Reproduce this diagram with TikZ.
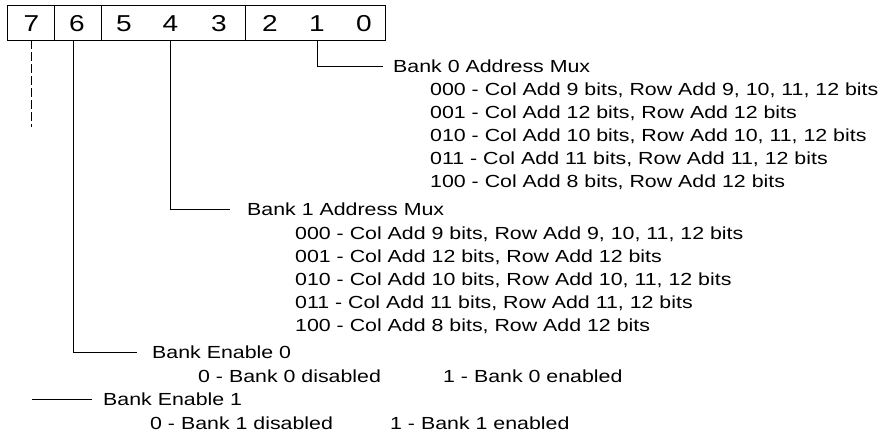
\documentclass[tikz,border=0pt]{standalone}
\usepackage{fontspec}
\setmainfont{Liberation Sans}[FakeStretch=1.22]
\usetikzlibrary{positioning}

\tikzset{
  cell/.style={draw, line width=0.9pt, minimum height=35pt, inner sep=0pt},
  bit/.style={inner sep=0pt, font=\fontsize{23}{26}\selectfont},
  field/.style={anchor=west, inner ysep=0pt, inner xsep=#1, text depth=0pt, font=\fontsize{17.5}{20}\selectfont},
  item/.style={anchor=west, inner sep=0pt, text depth=0pt, font=\fontsize{17.5}{20}\selectfont},
  wire/.style={line width=0.8pt},
}

\begin{document}
\begin{tikzpicture}[x=1pt, y=-1pt]
  \useasboundingbox (0,0) rectangle (881,436);
  % register fields
  \node[cell, minimum width=47pt]  (g7)   at (30.5,22.5)  {};
  \node[cell, minimum width=47pt]  (g6)   at (77.5,22.5)  {};
  \node[cell, minimum width=144pt] (g543) at (173,22.5)   {};
  \node[cell, minimum width=140pt] (g210) at (315,22.5)   {};
  \node[bit] (b7) at (31.5,23.5) {7};
  \node[bit] (b6) at (77,23.5)   {6};
  \node[bit] (b5) at (124,23.5)  {5};
  \node[bit] (b4) at (170.5,23.5) {4};
  \node[bit] (b3) at (219,23.5)  {3};
  \node[bit] (b2) at (270,23.5)  {2};
  \node[bit] (b1) at (317,23.5)  {1};
  \node[bit] (b0) at (364,23.5)  {0};

  % bits 2-0
  \node[field=10pt] (mux0) at (383,66) {Bank 0 Address Mux};
  \node[item] (mux0a) at (430,89)  {000 - Col Add 9 bits, Row Add 9, 10, 11, 12 bits};
  \node[item] (mux0b) at (430,112) {001 - Col Add 12 bits, Row Add 12 bits};
  \node[item] (mux0c) at (430,135) {010 - Col Add 10 bits, Row Add 10, 11, 12 bits};
  \node[item] (mux0d) at (430,158) {011 - Col Add 11 bits, Row Add 11, 12 bits};
  \node[item] (mux0e) at (430,181) {100 - Col Add 8 bits, Row Add 12 bits};
  % bits 5-3
  \node[field=17pt] (mux1) at (230,209) {Bank 1 Address Mux};
  \node[item] (mux1a) at (295,233) {000 - Col Add 9 bits, Row Add 9, 10, 11, 12 bits};
  \node[item] (mux1b) at (295,256) {001 - Col Add 12 bits, Row Add 12 bits};
  \node[item] (mux1c) at (295,279) {010 - Col Add 10 bits, Row Add 10, 11, 12 bits};
  \node[item] (mux1d) at (295,302) {011 - Col Add 11 bits, Row Add 11, 12 bits};
  \node[item] (mux1e) at (295,325) {100 - Col Add 8 bits, Row Add 12 bits};
  % bit 6
  \node[field=15pt] (en0) at (137,352) {Bank Enable 0};
  \node[item] (en0a) at (198,376) {0 - Bank 0 disabled};
  \node[item] (en0b) at (443,376) {1 - Bank 0 enabled};
  % bit 7
  \node[field=11pt] (en1) at (92,399) {Bank Enable 1};
  \node[item] (en1a) at (150,423) {0 - Bank 1 disabled};
  \node[item] (en1b) at (390,423) {1 - Bank 1 enabled};

  \draw[wire] (b1 |- g210.south) |- (mux0.west);
  \draw[wire] (b4 |- g543.south) |- (mux1.west);
  \path (g6.south) ++(-4.5,0) coordinate (t6);
  \draw[wire] (t6) |- (en0.west);
  \draw[wire, dash pattern=on 9pt off 3pt] (b7 |- g7.south) -- ++(0,87) coordinate (t7);
  \coordinate (s7) at (32,399);
  \draw[wire, line width=0.6pt] (s7) -- (en1.west);
\end{tikzpicture}
\end{document}
